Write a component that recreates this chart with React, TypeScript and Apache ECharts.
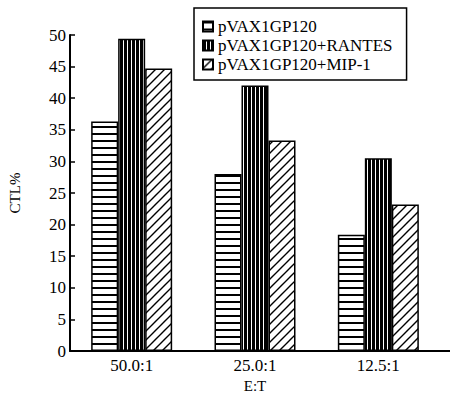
import React, { useEffect, useRef } from "react";
import * as echarts from "echarts";

const categories = ["50.0:1", "25.0:1", "12.5:1"];
const seriesNames = ["pVAX1GP120", "pVAX1GP120+RANTES", "pVAX1GP120+MIP-1"];
const plainValues = [36.3, 28.0, 18.4];
const rantesValues = [49.4, 42.0, 30.5];
const mipValues = [44.7, 33.3, 23.2];

const FONT = "'Liberation Serif', 'Times New Roman', serif";

function makePattern(kind: string) {
  const c = document.createElement("canvas");
  let w = 4, h = 7;
  if (kind === "h") { w = 4; h = 7; }
  if (kind === "v") { w = 4; h = 4; }
  if (kind === "d") { w = 9; h = 9; }
  c.width = w; c.height = h;
  const ctx = c.getContext("2d")!;
  ctx.fillStyle = "#fff";
  ctx.fillRect(0, 0, w, h);
  ctx.fillStyle = "#000";
  ctx.strokeStyle = "#000";
  if (kind === "h") {
    ctx.fillRect(0, 0, w, 2);
  } else if (kind === "v") {
    ctx.fillRect(0, 0, 3, h);
  } else {
    ctx.lineWidth = 1.4;
    ctx.beginPath();
    ctx.moveTo(-1, h + 1); ctx.lineTo(w + 1, -1);
    ctx.moveTo(-1, 1); ctx.lineTo(1, -1);
    ctx.moveTo(w - 1, h + 1); ctx.lineTo(w + 1, h - 1);
    ctx.stroke();
  }
  return { image: c as any, repeat: "repeat", imageWidth: w, imageHeight: h } as any;
}

export default function App() {
  const ref = useRef<HTMLDivElement>(null);
  useEffect(() => {
    if (!ref.current) return;
    const chart = echarts.init(ref.current, null, { renderer: "svg" });
    const patterns = [makePattern("h"), makePattern("v"), makePattern("d")];
    const values = [plainValues, rantesValues, mipValues];
    chart.setOption({
      animation: false,
      backgroundColor: "#fff",
      textStyle: { fontFamily: FONT, color: "#000" },
      grid: { left: 70, right: 10, top: 35, bottom: 45, outerBoundsMode: "none", containLabel: false },
      legend: {
        left: 194,
        top: 8,
        orient: "vertical",
        itemWidth: 10,
        itemHeight: 10,
        itemGap: 2,
        padding: [10, 14, 7, 8],
        borderColor: "#000",
        borderWidth: 1.5,
        icon: "rect",
        textStyle: { fontFamily: FONT, fontSize: 17, color: "#000", lineHeight: 16 },
        data: seriesNames,
      },
      xAxis: {
        type: "category",
        data: categories,
        name: "E:T",
        nameLocation: "middle",
        nameGap: 23,
        nameTextStyle: { fontFamily: FONT, fontSize: 15, lineHeight: 15, color: "#000" },
        axisLine: { lineStyle: { color: "#000", width: 2 } },
        axisTick: { inside: true, length: 5, lineStyle: { color: "#000", width: 1.5 } },
        axisLabel: { fontFamily: FONT, fontSize: 17, color: "#000", margin: 6 },
      },
      yAxis: {
        type: "value",
        min: 0,
        max: 50,
        interval: 5,
        name: "CTL%",
        nameLocation: "middle",
        nameRotate: 90,
        nameGap: 48,
        nameTextStyle: { fontFamily: FONT, fontSize: 15, color: "#000" },
        splitLine: { show: false },
        axisLine: { show: true, lineStyle: { color: "#000", width: 2 } },
        axisTick: { show: true, inside: true, length: 5, lineStyle: { color: "#000", width: 1.5 } },
        axisLabel: { fontFamily: FONT, fontSize: 17, color: "#000", margin: 4 },
      },
      series: seriesNames.map((name, i) => ({
        name,
        type: "bar",
        data: values[i],
        barWidth: 27,
        barGap: "0%",
        itemStyle: { color: patterns[i], borderColor: "#000", borderWidth: 1.5 },
      })),
      graphic: [
        {
          type: "line",
          shape: { x1: 440, y1: 351, x2: 450, y2: 351 },
          style: { stroke: "#000", lineWidth: 2 },
        },
      ],
    });
    return () => chart.dispose();
  }, []);
  return <div ref={ref} style={{ width: 450, height: 396, position: "absolute", left: 0, top: 0 }} />;
}
